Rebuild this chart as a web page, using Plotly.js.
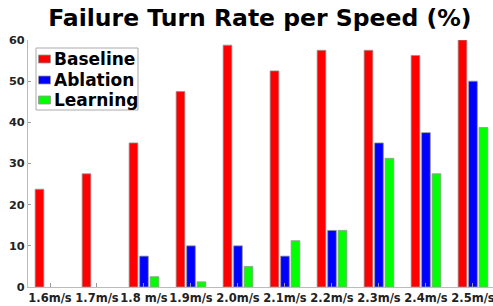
<!DOCTYPE html>
<html>
<head>
<meta charset="utf-8">
<script src="https://cdn.plot.ly/plotly-3.0.1.min.js"></script>
<style>html,body{margin:0;padding:0;background:#fff;}#chart{width:493px;height:306px;}</style>
</head>
<body>
<div id="chart"></div>
<script>
var categories = ["1.6m/s","1.7m/s","1.8 m/s","1.9m/s","2.0m/s","2.1m/s","2.2m/s","2.3m/s","2.4m/s","2.5m/s"];
var baseline = [23.75, 27.5, 35, 47.5, 58.75, 52.5, 57.5, 57.5, 56.25, 60];
var ablation = [0, 0, 7.5, 10, 10, 7.5, 13.75, 35, 37.5, 50];
var learning = [0, 0, 2.5, 1.25, 5, 11.25, 13.75, 31.25, 27.5, 38.75];
var seriesNames = ['Baseline', 'Ablation', 'Learning'];
var seriesColors = ['#ff0000', '#0000ff', '#00ff00'];
var yTicks = [0, 10, 20, 30, 40, 50, 60];

var allVals = [baseline, ablation, learning];
var data = allVals.map(function (vals, i) {
  return {type: 'bar', name: seriesNames[i], x: categories, y: vals,
          marker: {color: seriesColors[i],
                   line: {color: 'rgba(150,150,150,0.8)', width: vals.map(function (v) { return v > 0 ? 1 : 0; })}},
          hoverinfo: 'skip'};
});

// plot area geometry in pixels (for legend placement)
var L = 28, W = 465, B = 287, H = 247;
function px(xp) { return (xp - L) / W; }
function py(yp) { return (B - yp) / H; }

var shapes = [{type: 'rect', xref: 'paper', yref: 'paper', x0: px(36), x1: px(138), y0: py(110), y1: py(48),
               line: {color: '#aaa', width: 1}, fillcolor: '#fff', layer: 'above'}];
var annotations = [];
var rowY = [59, 80, 100];
seriesNames.forEach(function (n, i) {
  shapes.push({type: 'rect', xref: 'paper', yref: 'paper', x0: px(38.5), x1: px(50.5),
               y0: py(rowY[i] + 4), y1: py(rowY[i] - 4),
               line: {color: 'rgba(150,150,150,0.8)', width: 1}, fillcolor: seriesColors[i], layer: 'above'});
  annotations.push({xref: 'paper', yref: 'paper', x: px(52), y: py(rowY[i]), xanchor: 'left', yanchor: 'middle',
                    text: n, showarrow: false,
                    font: {family: 'DejaVu Sans', size: 17, color: '#000', weight: 'bold'}});
});

var layout = {
  width: 493, height: 306,
  margin: {l: L, r: 0, t: 40, b: 19, pad: 0},
  paper_bgcolor: '#fff', plot_bgcolor: '#fff',
  barmode: 'group', bargap: 0.33, bargroupgap: 0.17,
  title: {text: 'Failure Turn Rate per Speed (%)', x: 0.527, xanchor: 'center', yref: 'container', y: 0.968, yanchor: 'top',
          font: {family: 'DejaVu Sans', size: 23.5, color: '#000', weight: 'bold'}},
  font: {family: 'DejaVu Sans', color: '#222'},
  xaxis: {type: 'category', range: [-0.468, 9.426], showgrid: false, zeroline: false, tickangle: 0,
          showline: true, linecolor: '#bbb', linewidth: 1, ticks: 'inside', ticklen: 4, tickcolor: '#999',
          tickfont: {family: 'DejaVu Sans', size: 11.5, color: '#222', weight: 'bold'}, fixedrange: true},
  yaxis: {range: [0, 60], tickvals: yTicks, showgrid: false, zeroline: false,
          showline: true, linecolor: '#bbb', linewidth: 1, ticks: 'inside', ticklen: 3, tickcolor: '#999',
          tickfont: {family: 'DejaVu Sans', size: 11.3, color: '#222', weight: 'bold'}, fixedrange: true},
  showlegend: false,
  shapes: shapes,
  annotations: annotations
};
Plotly.newPlot('chart', data, layout, {staticPlot: true, displayModeBar: false});
</script>
</body>
</html>
